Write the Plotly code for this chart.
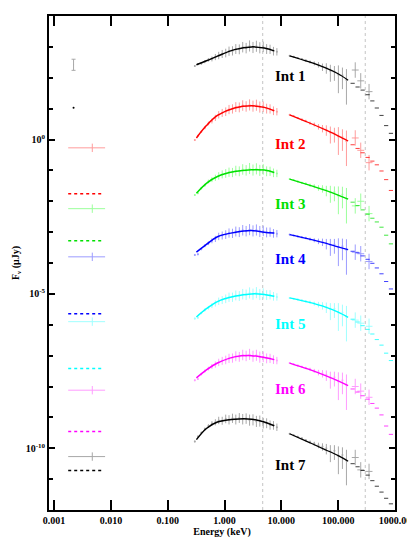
import numpy as np
import plotly.graph_objects as go

# energy grids (keV)
e_low = [0.30, 0.34, 0.39, 0.45, 0.52, 0.60, 0.69, 0.79, 0.91, 1.05, 1.20, 1.38, 1.58,
         1.82, 2.09, 2.40, 2.76, 3.17, 3.64, 4.18, 4.80, 5.51, 6.33, 7.27, 8.35]
e_high = [14, 16.5, 19.5, 23, 27, 32, 38, 45, 53, 62, 73, 86, 101, 119, 140]
e_tail = [180, 220, 270, 330, 400, 480, 580, 700, 850]
e_mod_low = [0.32, 0.48, 0.75, 1.5, 3.0, 5.0, 7.5]
e_mod_high = [14, 30, 60, 100, 150]
e_cross = [200, 250, 350]

names = ["Int 1", "Int 2", "Int 3", "Int 4", "Int 5", "Int 6", "Int 7"]

# log10 of F_nu (uJy), one row per interval
low_data = [
    [2.38, 2.44, 2.46, 2.52, 2.58, 2.61, 2.67, 2.72, 2.77, 2.80, 2.86, 2.87, 2.93, 2.92, 2.99, 2.96, 3.03, 2.98, 3.02, 2.97, 3.00, 2.93, 2.92, 2.86, 2.84],
    [-0.02, 0.12, 0.25, 0.38, 0.52, 0.60, 0.70, 0.80, 0.86, 0.90, 0.97, 0.99, 1.05, 1.04, 1.10, 1.07, 1.12, 1.08, 1.11, 1.05, 1.06, 1.00, 0.99, 0.93, 0.90],
    [-1.80, -1.74, -1.58, -1.48, -1.36, -1.30, -1.24, -1.18, -1.13, -1.10, -1.06, -1.07, -1.01, -1.03, -0.97, -1.00, -0.94, -0.99, -0.95, -1.00, -0.97, -1.03, -1.03, -1.08, -1.10],
    [-3.74, -3.72, -3.55, -3.44, -3.36, -3.28, -3.22, -3.14, -3.11, -3.08, -3.03, -3.04, -2.98, -3.00, -2.94, -2.97, -2.92, -2.96, -2.93, -2.98, -2.96, -3.01, -3.00, -3.04, -3.05],
    [-5.80, -5.77, -5.62, -5.52, -5.45, -5.38, -5.31, -5.24, -5.20, -5.16, -5.11, -5.11, -5.05, -5.07, -5.01, -5.03, -4.97, -5.01, -4.96, -5.02, -4.99, -5.04, -5.03, -5.08, -5.10],
    [-7.80, -7.76, -7.60, -7.50, -7.42, -7.35, -7.29, -7.22, -7.17, -7.14, -7.09, -7.08, -7.02, -7.04, -6.98, -7.01, -6.96, -7.02, -6.99, -7.05, -7.04, -7.09, -7.09, -7.13, -7.16],
    [-9.78, -9.62, -9.50, -9.38, -9.28, -9.20, -9.16, -9.10, -9.11, -9.05, -9.08, -9.03, -9.07, -9.02, -9.06, -9.04, -9.09, -9.08, -9.13, -9.12, -9.19, -9.19, -9.25, -9.26, -9.32],
]
high_data = [
    [2.71, 2.68, 2.64, 2.61, 2.56, 2.51, 2.47, 2.43, 2.36, 2.33, 2.22, 2.20, 2.10, 2.08, 1.93],
    [0.80, 0.76, 0.70, 0.65, 0.60, 0.53, 0.49, 0.42, 0.37, 0.32, 0.22, 0.20, 0.10, 0.08, -0.06],
    [-1.28, -1.31, -1.36, -1.40, -1.43, -1.48, -1.51, -1.56, -1.58, -1.64, -1.70, -1.70, -1.82, -1.78, -1.92],
    [-3.08, -3.11, -3.14, -3.17, -3.19, -3.23, -3.26, -3.29, -3.31, -3.36, -3.42, -3.40, -3.50, -3.46, -3.58],
    [-5.13, -5.16, -5.18, -5.21, -5.24, -5.27, -5.31, -5.34, -5.37, -5.42, -5.50, -5.48, -5.60, -5.60, -5.74],
    [-7.24, -7.28, -7.32, -7.36, -7.40, -7.44, -7.49, -7.54, -7.57, -7.62, -7.72, -7.70, -7.84, -7.80, -7.96],
    [-9.53, -9.58, -9.63, -9.68, -9.74, -9.80, -9.85, -9.90, -9.94, -10.00, -10.10, -10.08, -10.24, -10.22, -10.40],
]
model_low = [
    [2.42, 2.55, 2.70, 2.91, 3.00, 2.96, 2.87],
    [0.05, 0.45, 0.78, 1.02, 1.09, 1.04, 0.93],
    [-1.74, -1.42, -1.20, -1.04, -0.98, -0.99, -1.07],
    [-3.65, -3.40, -3.15, -3.01, -2.95, -3.00, -3.03],
    [-5.75, -5.48, -5.25, -5.08, -5.00, -5.02, -5.08],
    [-7.72, -7.46, -7.24, -7.04, -7.00, -7.06, -7.13],
    [-9.72, -9.36, -9.15, -9.06, -9.06, -9.15, -9.27],
]
model_high = [
    [2.71, 2.52, 2.32, 2.13, 1.92],
    [0.80, 0.55, 0.31, 0.12, -0.05],
    [-1.28, -1.47, -1.65, -1.80, -1.93],
    [-3.08, -3.22, -3.36, -3.48, -3.57],
    [-5.13, -5.27, -5.43, -5.59, -5.76],
    [-7.24, -7.44, -7.65, -7.82, -7.97],
    [-9.53, -9.80, -10.05, -10.24, -10.42],
]
tail = [
    [1.82, 1.70, 1.60, 1.45, 1.25, 1.02, 0.78, 0.45, 0.20],
    [-0.17, -0.29, -0.43, -0.58, -0.70, -0.82, -1.02, -1.30, -1.65],
    [-2.03, -2.14, -2.28, -2.42, -2.55, -2.67, -2.84, -3.10, -3.38],
    [-3.62, -3.67, -3.77, -3.88, -4.01, -4.16, -4.35, -4.60, -4.84],
    [-5.82, -5.91, -6.03, -6.15, -6.30, -6.48, -6.66, -6.92, -7.16],
    [-8.08, -8.18, -8.30, -8.41, -8.55, -8.70, -8.92, -9.28, -9.55],
    [-10.50, -10.60, -10.72, -10.87, -11.05, -11.23, -11.42, -11.62, -11.80],
]
crosses = [
    [2.25, 1.90, 1.55],
    [0.05, -0.35, -0.75],
    [-2.15, -2.00, -2.40],
    [-3.65, -3.70, -3.95],
    [-5.85, -5.95, -6.05],
    [-8.00, -8.15, -8.35],
    [-10.30, -10.70, -10.75],
]
# error bar half-lengths (dex)
err_low = [0.03, 0.03, 0.04, 0.05, 0.06, 0.08, 0.10, 0.12, 0.13, 0.14, 0.15, 0.15, 0.16,
           0.16, 0.17, 0.17, 0.18, 0.18, 0.18, 0.18, 0.17, 0.16, 0.15, 0.14, 0.12]
err_high_up = [0.02, 0.02, 0.03, 0.03, 0.04, 0.05, 0.06, 0.08, 0.10, 0.14, 0.20, 0.18, 0.30, 0.25, 0.35]
err_high_dn = [0.02, 0.02, 0.03, 0.03, 0.04, 0.05, 0.07, 0.10, 0.14, 0.20, 0.35, 0.30, 0.60, 0.45, 0.80]

# label positions and left-hand key
label_e = 14.4
label_y = [2.07, -0.14, -2.08, -3.88, -5.96, -8.07, -10.55]
key_data_y = [2.42, -0.27, -2.24, -3.80, -5.90, -8.12, -10.27]
key_model_y = [1.03, -1.76, -3.28, -5.64, -7.42, -9.46, -10.72]
key_x = [0.00177, 0.0079]
key_tick_x = 0.0047
key_int1_x = 0.0022

model_colors = ["#000000", "#ff0000", "#00e000", "#0000ff", "#00ffff", "#ff00ff", "#000000"]
data_colors = ["#a8a8a8", "#ff9c9c", "#9cff9c", "#9c9cff", "#a0ffff", "#ff9cff", "#a8a8a8"]

def flux(logs):
    return [10 ** v for v in logs]

def err_up(logs, dex):
    return [10 ** v * (10 ** d - 1) for v, d in zip(logs, dex)]

def err_dn(logs, dex):
    return [10 ** v * (1 - 10 ** -d) for v, d in zip(logs, dex)]

fig = go.Figure()

# vertical dotted guides
for ev in [4.7, 300]:
    fig.add_trace(go.Scatter(x=[ev, ev], y=[1e-12, 1e4], mode="lines",
                             line=dict(color="#c4c4c4", width=1, dash="dot"), hoverinfo="skip"))

for i in range(7):
    dc, mc = data_colors[i], model_colors[i]
    fig.add_trace(go.Scatter(
        x=e_low, y=flux(low_data[i]), mode="markers",
        marker=dict(size=2, color=dc),
        error_y=dict(type="data", array=err_up(low_data[i], err_low),
                     arrayminus=err_dn(low_data[i], err_low), color=dc, thickness=1, width=0)))
    fig.add_trace(go.Scatter(
        x=e_high, y=flux(high_data[i]), mode="markers",
        marker=dict(size=2, color=dc),
        error_y=dict(type="data", array=err_up(high_data[i], err_high_up),
                     arrayminus=err_dn(high_data[i], err_high_dn), color=dc, thickness=1, width=0)))
    fig.add_trace(go.Scatter(
        x=e_cross, y=flux(crosses[i]), mode="markers",
        marker=dict(size=1, color=dc),
        error_y=dict(type="data", array=err_up(crosses[i], [0.25] * 3),
                     arrayminus=err_dn(crosses[i], [0.25] * 3), color=dc, thickness=1, width=0),
        error_x=dict(type="data", array=[e * 0.15 for e in e_cross],
                     arrayminus=[e * 0.13 for e in e_cross], color=dc, thickness=1, width=0)))
    fig.add_trace(go.Scatter(
        x=e_mod_low, y=flux(model_low[i]), mode="lines",
        line=dict(color=mc, width=1.5, shape="spline")))
    fig.add_trace(go.Scatter(
        x=e_mod_high, y=flux(model_high[i]), mode="lines",
        line=dict(color=mc, width=1.3, shape="spline")))
    fig.add_trace(go.Scatter(
        x=e_tail, y=flux(tail[i]), mode="markers",
        marker=dict(symbol="line-ew", size=3, opacity=0.75, line=dict(color=mc, width=1))))

    # key on the left
    if i == 0:
        fig.add_trace(go.Scatter(
            x=[key_int1_x], y=flux([key_data_y[i]]), mode="markers",
            marker=dict(size=1, color=dc),
            error_y=dict(type="data", array=err_up([key_data_y[i]], [0.18]),
                         arrayminus=err_dn([key_data_y[i]], [0.18]), color=dc, thickness=1, width=2)))
        fig.add_trace(go.Scatter(
            x=[key_int1_x], y=flux([key_model_y[i]]), mode="markers",
            marker=dict(size=2, color=mc)))
    else:
        fig.add_trace(go.Scatter(
            x=key_x, y=flux([key_data_y[i]] * 2), mode="lines",
            line=dict(color=dc, width=1)))
        fig.add_trace(go.Scatter(
            x=[key_tick_x], y=flux([key_data_y[i]]), mode="markers",
            marker=dict(symbol="line-ns", size=6, line=dict(color=dc, width=1))))
        fig.add_trace(go.Scatter(
            x=[key_x[0], key_x[1] * 0.93], y=flux([key_model_y[i]] * 2), mode="lines",
            line=dict(color=mc, width=1.5, dash="dot")))

    fig.add_annotation(x=np.log10(label_e), y=label_y[i], text=names[i], showarrow=False,
                       xanchor="center", yanchor="middle",
                       font=dict(family="Liberation Serif", size=15, color=mc, weight="bold"))

tick_font = dict(family="Liberation Serif", size=10, color="black", weight="bold")

fig.update_xaxes(
    type="log", range=[-3.09, 3.001], automargin=False, ticklabeloverflow="allow",
    tickvals=[0.001, 0.01, 0.1, 1, 10, 100, 1000],
    ticktext=["0.001", "0.010", "0.100", "1.000", "10.000", "100.000", "1000.00"],
    ticks="inside", ticklen=10, tickwidth=2, tickcolor="black",
    showline=True, linewidth=2, linecolor="black", mirror="allticks",
    showgrid=False, zeroline=False, tickfont=tick_font,
    title=dict(text="Energy (keV)", font=tick_font, standoff=3),
)
fig.update_yaxes(
    type="log", range=[-12, 4], automargin=False,
    tickvals=[1, 1e-5, 1e-10],
    ticktext=["10<sup>0</sup>", "10<sup>-5</sup>", "10<sup>-10</sup>"],
    ticks="inside", ticklen=6, tickwidth=2, tickcolor="black",
    minor=dict(tickvals=[10.0 ** k for k in range(-12, 5)], ticks="inside",
               ticklen=4, tickwidth=2, tickcolor="black", showgrid=False),
    showline=True, linewidth=2, linecolor="black", mirror="allticks",
    showgrid=False, zeroline=False, tickfont=tick_font,
    title=dict(text="F<sub>ν</sub> (μJy)", font=tick_font, standoff=4),
)

fig.update_layout(
    width=407, height=543,
    margin=dict(l=49, r=12, t=16, b=33, autoexpand=False),
    paper_bgcolor="white", plot_bgcolor="white",
    showlegend=False,
)

# the page body has a default 8px margin; drop it so the figure sits at the window's corner
fig.write_html("out.html", config={"displayModeBar": False},
               post_script="document.body.style.margin='0px';")
